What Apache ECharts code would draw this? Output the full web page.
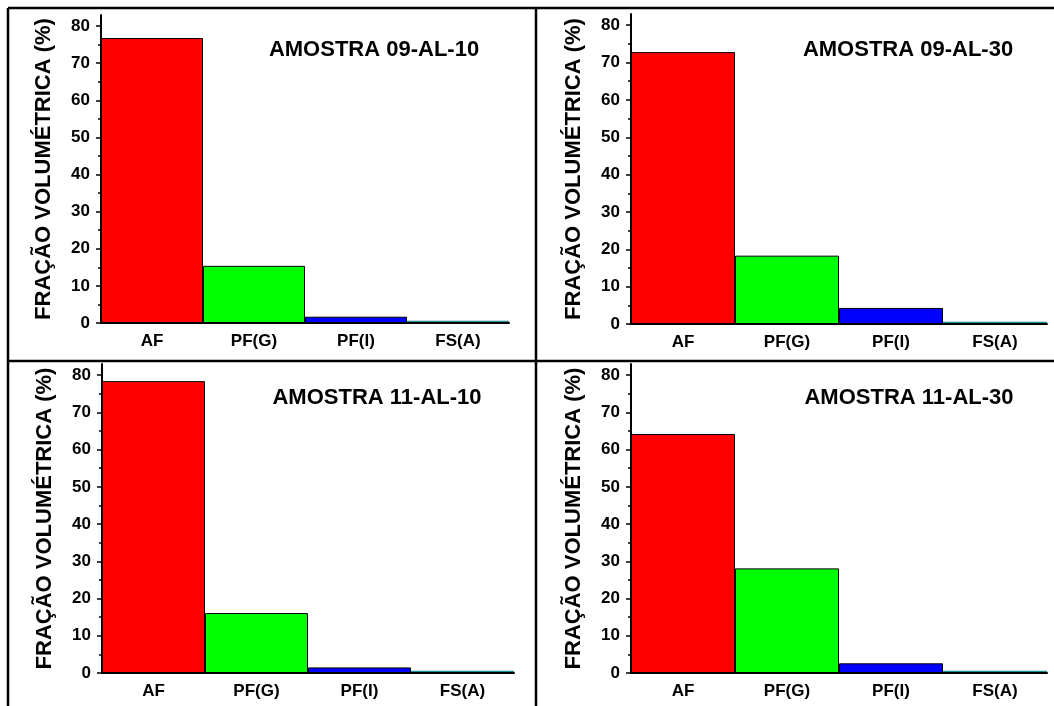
<!DOCTYPE html>
<html>
<head>
<meta charset="utf-8">
<script src="https://cdn.jsdelivr.net/npm/echarts@6/dist/echarts.min.js"></script>
<style>
  html, body { margin: 0; padding: 0; background: #fff; }
  #chart { width: 1054px; height: 706px; }
</style>
</head>
<body>
<div id="chart"></div>
<script>
// categories and values
const categories = ['AF', 'PF(G)', 'PF(I)', 'FS(A)']
const am0910 = [76.8, 15.4, 1.7, 0.6]
const am0930 = [72.8, 18.3, 4.3, 0.6]
const am1110 = [78.4, 16.1, 1.5, 0.6]
const am1130 = [64.2, 28.1, 2.6, 0.6]
const titles = ['AMOSTRA 09-AL-10', 'AMOSTRA 09-AL-30', 'AMOSTRA 11-AL-10', 'AMOSTRA 11-AL-30']
const yTicks = [0, 10, 20, 30, 40, 50, 60, 70, 80]
const yMinorTicks = [5, 15, 25, 35, 45, 55, 65, 75]
const barColors = ['#ff0000', '#00ff00', '#0000ff', '#00ffff']
const barBorders = ['#000', '#000', '#000', '#107070']
const yName = 'FRAÇÃO VOLUMÉTRICA (%)'

const allData = [am0910, am0930, am1110, am1130]

// panel layout (pixels)
const panels = [
  { left: 101, top: 15, width: 408, height: 308, tx: 374, ty: 50 },
  { left: 631, top: 14, width: 416, height: 310, tx: 908, ty: 50 },
  { left: 102, top: 364, width: 412, height: 309, tx: 377, ty: 398 },
  { left: 631, top: 364, width: 416, height: 309, tx: 909, ty: 398 }
]

const font = 'Liberation Sans, Arial, Helvetica, sans-serif'

const chart = echarts.init(document.getElementById('chart'), null, { renderer: 'canvas' })

const grid = []
const xAxis = []
const yAxis = []
const series = []
const graphic = []

panels.forEach((p, i) => {
  grid.push({ left: p.left, top: p.top, width: p.width, height: p.height, containLabel: false })
  xAxis.push({
    type: 'category',
    gridIndex: i,
    data: categories,
    z: 5,
    axisLine: { lineStyle: { color: '#000', width: 2 } },
    axisTick: { alignWithLabel: true, inside: true, length: 4, lineStyle: { color: '#000', width: 1.5 } },
    axisLabel: { color: '#000', fontSize: 17, fontWeight: 'bold', fontFamily: font, margin: 10 },
    splitLine: { show: false }
  })
  yAxis.push({
    type: 'value',
    gridIndex: i,
    position: 'left',
    min: 0,
    max: 83,
    interval: 10,
    z: 5,
    name: yName,
    nameLocation: 'middle',
    nameGap: 46,
    nameTextStyle: { color: '#000', fontSize: 22, fontWeight: 'bold', fontFamily: font },
    axisLine: { show: true, lineStyle: { color: '#000', width: 2 } },
    axisTick: { show: true, customValues: yTicks, length: 5, lineStyle: { color: '#000', width: 1.5 } },
    axisLabel: { customValues: yTicks, color: '#000', fontSize: 17, fontWeight: 'bold', fontFamily: font, margin: 11 },
    splitLine: { show: false }
  })
  // second axis only for the minor ticks
  yAxis.push({
    type: 'value',
    gridIndex: i,
    position: 'left',
    min: 0,
    max: 83,
    interval: 10,
    z: 5,
    axisLine: { show: false },
    axisTick: { show: true, customValues: yMinorTicks, length: 3, lineStyle: { color: '#000', width: 1.5 } },
    axisLabel: { show: false },
    splitLine: { show: false }
  })
  series.push({
    type: 'bar',
    xAxisIndex: i,
    yAxisIndex: i * 2,
    barCategoryGap: '0%',
    data: allData[i].map((v, k) => ({
      value: v,
      itemStyle: { color: barColors[k], borderColor: barBorders[k] }
    })),
    itemStyle: { borderWidth: 1 }
  })
  graphic.push({
    type: 'text',
    x: p.tx,
    y: p.ty,
    z: 10,
    style: {
      text: titles[i],
      fill: '#000',
      font: 'bold 22px ' + font,
      align: 'center',
      verticalAlign: 'middle'
    }
  })
})

// table borders around the panels
const borderLines = [
  [8, 8, 1054, 8],
  [8, 361, 1054, 361],
  [8, 8, 8, 706],
  [536, 8, 536, 706]
]
borderLines.forEach(l => {
  graphic.push({
    type: 'line',
    z: 10,
    shape: { x1: l[0], y1: l[1], x2: l[2], y2: l[3] },
    style: { stroke: '#000', lineWidth: 2.5 }
  })
})

chart.setOption({
  animation: false,
  backgroundColor: '#fff',
  grid: grid,
  xAxis: xAxis,
  yAxis: yAxis,
  series: series,
  graphic: graphic
})
</script>
</body>
</html>
